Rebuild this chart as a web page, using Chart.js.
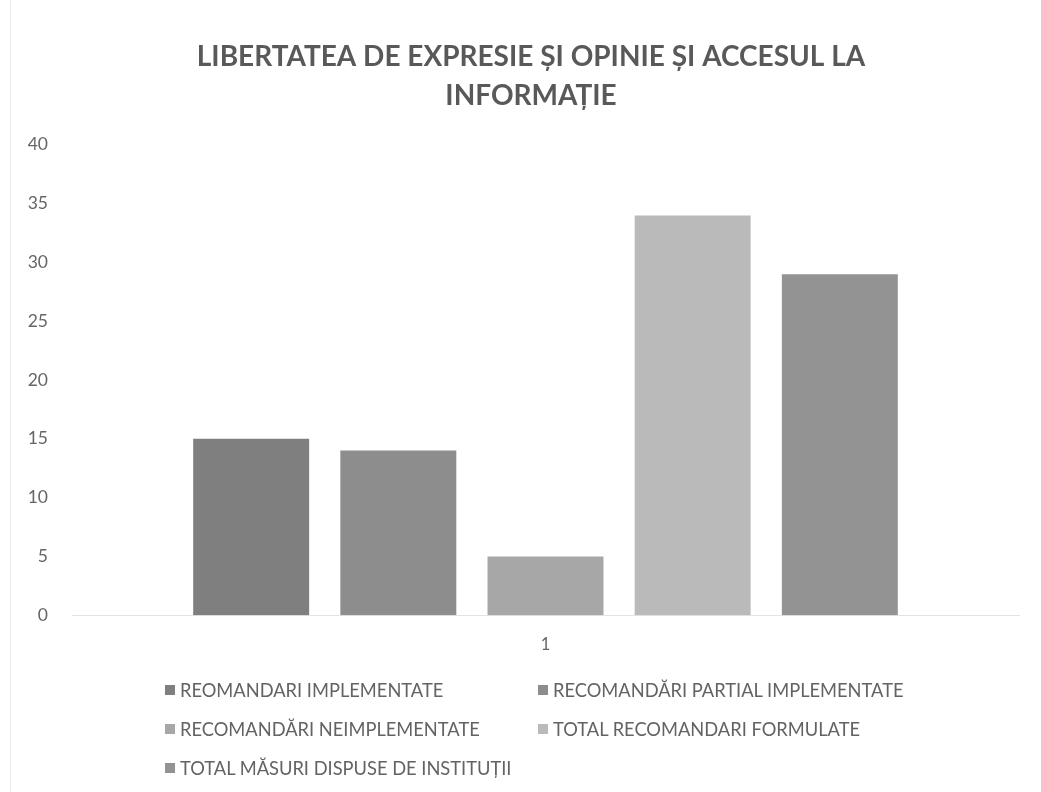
<!DOCTYPE html>
<html>
<head>
<meta charset="utf-8">
<script src="https://cdn.jsdelivr.net/npm/chart.js@4/dist/chart.umd.min.js"></script>
<style>
  html, body { margin: 0; padding: 0; background: #fff; }
  #wrap { position: relative; width: 1041px; height: 792px; overflow: hidden; }
  #frame { position: absolute; left: 10px; top: 0; width: 1px; height: 792px; background: #ececec; }
  #cv { position: absolute; left: 0; top: 0; }
  #legend { position: absolute; left: 0; top: 0; width: 1041px; height: 792px; pointer-events: none; }
  .li { position: absolute; display: flex; align-items: center; font-family: Lato, "Open Sans", sans-serif; font-size: 18.3px; color: #636363; white-space: nowrap; }
  .li span.box { display: inline-block; width: 10px; height: 10px; margin-right: 5px; }
</style>
</head>
<body>
<div id="wrap">
  <div id="frame"></div>
  <canvas id="cv" width="1041" height="680"></canvas>
  <div id="legend"></div>
</div>
<script>
const titleLines = ["LIBERTATEA DE EXPRESIE ȘI OPINIE ȘI ACCESUL LA", "INFORMAȚIE"];
const categories = ["1"];
const seriesNames = [
  "REOMANDARI IMPLEMENTATE",
  "RECOMANDĂRI PARTIAL IMPLEMENTATE",
  "RECOMANDĂRI NEIMPLEMENTATE",
  "TOTAL RECOMANDARI FORMULATE",
  "TOTAL MĂSURI DISPUSE DE INSTITUȚII"
];
const seriesValues = [15, 14, 5, 34, 29];
const seriesColors = ["#7f7f7f", "#8d8d8d", "#a7a7a7", "#bababa", "#939393"];
const yTicks = [0, 5, 10, 15, 20, 25, 30, 35, 40];

const datasets = seriesNames.map((name, i) => ({
  label: name,
  data: [seriesValues[i]],
  backgroundColor: seriesColors[i],
  borderWidth: 0,
  categoryPercentage: 0.777,
  barPercentage: 0.788
}));

const chart = new Chart(document.getElementById('cv'), {
  type: 'bar',
  data: { labels: categories, datasets },
  options: {
    responsive: false,
    animation: false,
    devicePixelRatio: 1,
    layout: { padding: { left: 43, right: 22, top: 0, bottom: 5 } },
    plugins: {
      legend: { display: false },
      tooltip: { enabled: false },
      title: {
        display: true,
        text: titleLines,
        color: '#595959',
        font: { family: 'Lato, "Open Sans", sans-serif', size: 28, weight: 'bold', lineHeight: 1.39 },
        padding: { top: 38, bottom: 29 }
      }
    },
    scales: {
      x: {
        grid: { display: false, drawTicks: false },
        border: { display: true, color: '#e3e3e3', width: 1 },
        ticks: { color: '#666', font: { family: 'Lato, "Open Sans", sans-serif', size: 16.5 }, padding: 20 }
      },
      y: {
        min: 0, max: 40,
        afterBuildTicks: (s) => { s.ticks = yTicks.map(v => ({ value: v })); },
        afterFit: (s) => { s.width = 29; },
        afterUpdate: (s) => { s._computeLabelArea = () => undefined; },
        grid: { display: false, drawTicks: false },
        border: { display: false },
        ticks: { color: '#666', font: { family: 'Lato, "Open Sans", sans-serif', size: 17.5 }, padding: 24 }
      }
    }
  }
});

const legendPos = [[165, 690], [538, 690], [165, 729], [538, 729], [165, 768]];
const lg = document.getElementById('legend');
seriesNames.forEach((name, i) => {
  const d = document.createElement('div');
  d.className = 'li';
  d.style.left = legendPos[i][0] + 'px';
  d.style.top = (legendPos[i][1] - 11) + 'px';
  d.style.height = '22px';
  const b = document.createElement('span');
  b.className = 'box';
  b.style.background = seriesColors[i];
  d.appendChild(b);
  d.appendChild(document.createTextNode(name));
  lg.appendChild(d);
});
</script>
</body>
</html>
